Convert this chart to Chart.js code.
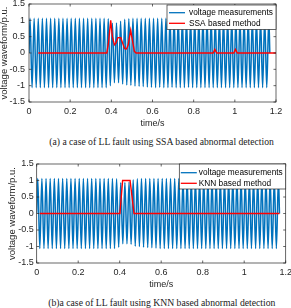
<!DOCTYPE html>
<html>
<head>
<meta charset="utf-8">
<script src="https://cdn.jsdelivr.net/npm/chart.js@4.4.0/dist/chart.umd.min.js"></script>
<style>
  html, body { margin: 0; padding: 0; background: #fff; width: 291px; height: 308px; overflow: hidden; }
  .wrap { position: absolute; left: 0; width: 291px; }
  .cap { position: absolute; white-space: nowrap; line-height: 1.2; color: #1a1a1a;
         font-family: "Liberation Serif", "Times New Roman", serif; }
</style>
</head>
<body>
<div class="wrap" style="top:-6px"><canvas id="chartA" width="291" height="135"></canvas></div>
<div class="cap" id="capA">(a) a case of LL fault using SSA based abnormal detection</div>
<div class="wrap" style="top:154px"><canvas id="chartB" width="291" height="136"></canvas></div>
<div class="cap" id="capB">(b)a case of LL fault using KNN based abnormal detection</div>

<script>
// half-cycle peaks of the 50 Hz voltage
// positive peaks at 0.005 + 0.02k s, negative peaks at 0.015 + 0.02k s
const posPeaksA = [
  1.06, 1.06, 1.06, 1.06, 1.06, 1.06, 1.06, 1.06, 1.06, 1.06,
  1.06, 1.06, 1.06, 1.06, 1.06, 1.06, 1.06, 1.06, 1.06, 1.05,
  0.91, 0.92, 0.97, 1.03, 1.05, 1.06, 1.06, 1.06, 1.06, 1.06,
  1.06, 1.06, 1.06, 1.06, 1.06, 1.06, 1.06, 1.06, 1.06, 1.06,
  1.06, 1.06, 1.06, 1.06, 1.06, 1.06, 1.06, 1.06, 1.06, 1.06,
  1.06, 1.06, 1.06, 1.06, 1.06, 1.06, 1.06, 1.06, 1.06
];
const negPeaksA = [
  -1.06, -1.06, -1.06, -1.06, -1.06, -1.06, -1.06, -1.06, -1.06, -1.06,
  -1.06, -1.06, -1.06, -1.06, -1.06, -1.06, -1.06, -1.06, -1.06, -1.0,
  -0.91, -0.91, -0.95, -0.98, -0.99, -1.01, -1.02, -1.03, -1.04, -1.05,
  -1.06, -1.05, -1.06, -1.06, -1.05, -1.06, -1.06, -1.06, -1.05, -1.06,
  -1.06, -1.06, -1.06, -1.06, -1.06, -1.06, -1.06, -1.06, -1.06, -1.06,
  -1.06, -1.06, -1.06, -1.06, -1.06, -1.06, -1.06, -1.06
];
const posPeaksB = [
  1.06, 1.06, 1.06, 1.06, 1.06, 1.06, 1.06, 1.06, 1.06, 1.06,
  1.06, 1.06, 1.06, 1.06, 1.06, 1.06, 1.06, 1.06, 1.06, 1.05,
  0.93, 0.94, 0.95, 1.02, 1.05, 1.06, 1.06, 1.06, 1.06, 1.06,
  1.06, 1.06, 1.06, 1.06, 1.06, 1.06, 1.06, 1.06, 1.06, 1.06,
  1.06, 1.06, 1.06, 1.06, 1.06, 1.06, 1.06, 1.06, 1.06, 1.06,
  1.06, 1.06, 1.06, 1.06, 1.06, 1.06, 1.06, 1.06, 1.06
];
const negPeaksB = [
  -1.06, -1.06, -1.06, -1.06, -1.06, -1.06, -1.06, -1.06, -1.06, -1.06,
  -1.06, -1.06, -1.06, -1.06, -1.06, -1.06, -1.06, -1.06, -1.06, -1.02,
  -0.92, -0.92, -0.93, -0.99, -1.0, -1.02, -1.03, -1.04, -1.05, -1.06,
  -1.06, -1.06, -1.06, -1.06, -1.06, -1.06, -1.06, -1.06, -1.06, -1.06,
  -1.06, -1.06, -1.06, -1.06, -1.06, -1.06, -1.06, -1.06, -1.06, -1.06,
  -1.06, -1.06, -1.06, -1.06, -1.06, -1.06, -1.06, -1.06
];
const waveEnd = 1.17;

// SSA detection output
const ssaTime = [0.045, 0.378, 0.386, 0.397, 0.405, 0.415, 0.422, 0.432, 0.446, 0.455, 0.465, 0.474, 0.482, 0.494, 0.502, 0.512, 0.52,
                 0.895, 0.903, 0.912, 0.995, 1.003, 1.012, 1.2];
const ssaValue = [0, 0, 0.3, 1.0, 0.5, 0.25, 0.3, 0.47, 0.47, 0.3, 0.13, 0.12, 0.25, 0.7, 0.4, 0.05, 0,
                  0, 0.11, 0, 0, 0.11, 0, 0];

// KNN detection output
const knnTime = [0.015, 0.401, 0.414, 0.45, 0.469, 1.17];
const knnValue = [0, 0, 1, 1, 0, 0];

const xTicks = [0, 0.2, 0.4, 0.6, 0.8, 1, 1.2];
const yTicks = [-1.5, -1, -0.5, 0, 0.5, 1, 1.5];
const labelsA = ["voltage measurements", "SSA based method"];
const labelsB = ["voltage measurements", "KNN based method"];

const BLUE = "#0072BD";
const RED = "#FF0000";
const INK = "#262626";
const SANS = "'Liberation Sans', Arial, sans-serif";

function wave(pos, neg, tEnd) {
    let pts = [{ x: 0, y: 0 }];
    for (let k = 0; k < pos.length; k++) {
        pts.push({ x: 0.005 + 0.02 * k, y: pos[k] });
        if (k < neg.length) pts.push({ x: 0.015 + 0.02 * k, y: neg[k] });
    }
    pts.push({ x: tEnd, y: 0 });
    return pts;
}

function zip(xs, ys) {
    return xs.map((x, i) => ({ x: x, y: ys[i] }));
}

// box, inward ticks and legend the way MATLAB draws them
const matlabFrame = {
    id: 'matlabFrame',
    afterDatasetsDraw(chart, args, opts) {
        const { ctx, chartArea: a, scales } = chart;
        ctx.save();
        ctx.strokeStyle = INK;
        ctx.lineWidth = 0.7;
        ctx.beginPath();
        xTicks.forEach(v => {
            const px = scales.x.getPixelForValue(v);
            ctx.moveTo(px, a.bottom); ctx.lineTo(px, a.bottom - 2.5);
            ctx.moveTo(px, a.top); ctx.lineTo(px, a.top + 2.5);
        });
        yTicks.forEach(v => {
            const py = scales.y.getPixelForValue(v);
            ctx.moveTo(a.left, py); ctx.lineTo(a.left + 2.5, py);
            ctx.moveTo(a.right, py); ctx.lineTo(a.right - 2.5, py);
        });
        ctx.stroke();
        ctx.strokeRect(a.left, a.top, a.right - a.left, a.bottom - a.top);

        // legend box in the upper right corner
        const L = opts;
        const bx = a.right - L.width, by = a.top + L.top;
        ctx.fillStyle = "#fff";
        ctx.fillRect(bx, by, L.width, L.height);
        ctx.lineWidth = 0.7;
        ctx.strokeRect(bx, by, L.width, L.height);
        ctx.font = "8.3px " + SANS;
        ctx.textBaseline = "middle";
        ctx.textAlign = "left";
        chart.data.datasets.forEach((ds, i) => {
            const y = by + L.rows[i];
            ctx.strokeStyle = ds.borderColor;
            ctx.lineWidth = 1.3;
            ctx.beginPath();
            ctx.moveTo(bx + L.line0, y); ctx.lineTo(bx + L.line1, y);
            ctx.stroke();
            ctx.fillStyle = "#000";
            ctx.fillText(ds.label, bx + L.text, y);
        });
        ctx.restore();
    }
};

function makeChart(canvasId, voltage, detect, labels, geo) {
    const tickFont = { family: SANS, size: 9 };
    return new Chart(document.getElementById(canvasId), {
        type: "line",
        data: {
            datasets: [
                { label: labels[0], data: voltage, borderColor: BLUE, borderWidth: 1.5,
                  pointRadius: 0, cubicInterpolationMode: "monotone", order: 2 },
                { label: labels[1], data: detect, borderColor: RED, borderWidth: 1.4,
                  pointRadius: 0, tension: 0, order: 1 }
            ]
        },
        options: {
            responsive: false,
            animation: false,
            events: [],
            layout: { padding: { top: 10, right: geo.right, bottom: 0, left: 0 } },
            plugins: {
                legend: { display: false },
                tooltip: { enabled: false },
                matlabFrame: geo.legend
            },
            scales: {
                x: {
                    type: "linear", min: 0, max: 1.2,
                    grid: { display: false, drawTicks: false },
                    border: { display: false },
                    afterBuildTicks: s => { s.ticks = xTicks.map(v => ({ value: v })); },
                    ticks: { padding: 4, color: INK, font: tickFont, maxRotation: 0, autoSkip: false,
                             callback: v => String(+v.toFixed(1)) },
                    title: { display: true, text: "time/s", color: INK, font: { family: SANS, size: 9 }, padding: 0 },
                    afterFit: s => { s.height = 27; s.paddingLeft = 0; s.paddingRight = 0; }
                },
                y: {
                    min: -1.5, max: 1.5,
                    grid: { display: false, drawTicks: false },
                    border: { display: false },
                    afterBuildTicks: s => { s.ticks = yTicks.map(v => ({ value: v })); },
                    ticks: { padding: geo.yPad, color: INK, font: tickFont, autoSkip: false,
                             callback: v => String(v) },
                    title: { display: true, text: "voltage waveform/p.u.", color: INK,
                             font: { family: SANS, size: 9.5, lineHeight: 1 }, padding: { top: geo.titlePad, bottom: 0 } },
                    afterFit: s => { s.width = geo.yWidth; s.paddingTop = 0; s.paddingBottom = 0; }
                }
            }
        },
        plugins: [matlabFrame]
    });
}

makeChart("chartA", wave(posPeaksA, negPeaksA, waveEnd), zip(ssaTime, ssaValue), labelsA, {
    right: 15, yWidth: 29, yPad: 4, titlePad: 0,
    legend: { width: 109, height: 24.5, top: 1, rows: [7.7, 18.3], line0: 2, line1: 18, text: 22 }
});
makeChart("chartB", wave(posPeaksB, negPeaksB, waveEnd), zip(knnTime, knnValue), labelsB, {
    right: 5.3, yWidth: 36.7, yPad: 3, titlePad: 8,
    legend: { width: 106.4, height: 25, top: 0, rows: [8.7, 19.3], line0: 1.5, line1: 17.5, text: 19.5 }
});

function fitCaption(id, left, right, midY) {
    const el = document.getElementById(id);
    const c = document.createElement("canvas").getContext("2d");
    c.font = '10px "Liberation Serif"';
    const size = 10 * (right - left) / c.measureText(el.textContent).width;
    el.style.fontSize = size + "px";
    el.style.left = left + "px";
    el.style.top = (midY - size * 0.6) + "px";
}
fitCaption("capA", 49.3, 275, 141.7);
fitCaption("capB", 48.3, 276, 302.7);
</script>
</body>
</html>
